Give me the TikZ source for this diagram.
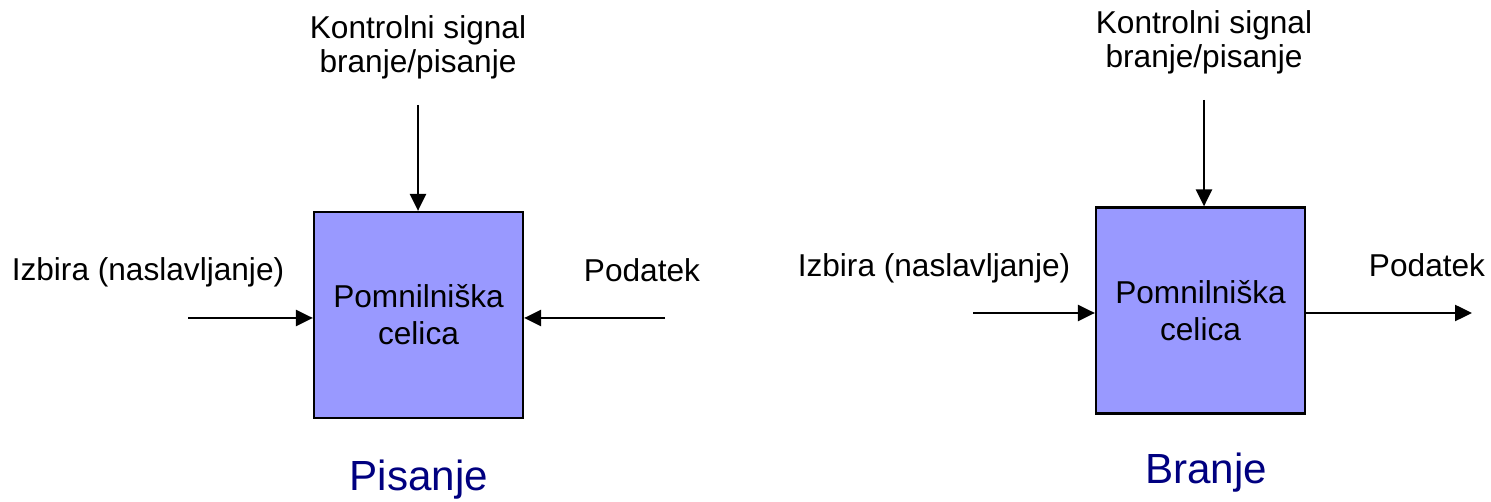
\documentclass[tikz,border=0pt]{standalone}
\usepackage{fontspec}
\setmainfont{Liberation Sans}
\usetikzlibrary{arrows.meta}
\definecolor{cellfill}{RGB}{153,153,255}
\definecolor{titleblue}{RGB}{0,0,128}
\begin{document}
\begin{tikzpicture}[x=0.02cm, y=-0.02cm,
        cell/.style={draw, rectangle, fill=cellfill, line width=1.3pt, minimum width=4.18cm, minimum height=4.12cm, align=center, font=\fontsize{18}{21}\selectfont},
        lbl/.style={align=center, font=\fontsize{18}{19.5}\selectfont},
        title/.style={text=titleblue, font=\fontsize{24}{28}\selectfont},
        sig/.style={line width=1.4pt, -{Triangle[length=0.34cm, width=0.32cm]}}]
        \useasboundingbox (0,0) rectangle (1491,502);

        % Pisanje
        \node (wcell) [cell] at (418.5,315) {Pomnilniška\\celica};
        \node (wctrl) [lbl] at (418,47) {Kontrolni signal\\branje/pisanje};
        \node (waddr) [lbl] at (148,272) {Izbira (naslavljanje)};
        \node (wdata) [lbl] at (642,270) {Podatek};
        \node (wtitle) [title] at (419,480) {Pisanje};
        \coordinate (wctrlin) at (418,105);
        \coordinate (waddrin) at (188,318);
        \coordinate (wdatain) at (665,318);

        \draw[sig] (wctrlin) -- (wctrlin |- wcell.north);
        \draw[sig] (waddrin) -- (waddrin -| wcell.west);
        \draw[sig] (wdatain) -- (wdatain -| wcell.east);

        % Branje
        \node (rcell) [cell] at (1200.5,310.5) {Pomnilniška\\celica};
        \node (rctrl) [lbl] at (1204,42) {Kontrolni signal\\branje/pisanje};
        \node (raddr) [lbl] at (934,268) {Izbira (naslavljanje)};
        \node (rdata) [lbl] at (1427,265) {Podatek};
        \node (rtitle) [title] at (1206,473) {Branje};
        \coordinate (rctrlin) at (1204,100);
        \coordinate (raddrin) at (973,313);
        \coordinate (rdataout) at (1472,313);

        \draw[sig] (rctrlin) -- (rctrlin |- rcell.north);
        \draw[sig] (raddrin) -- (raddrin -| rcell.west);
        \draw[sig] (rdataout -| rcell.east) -- (rdataout);
\end{tikzpicture}
\end{document}
